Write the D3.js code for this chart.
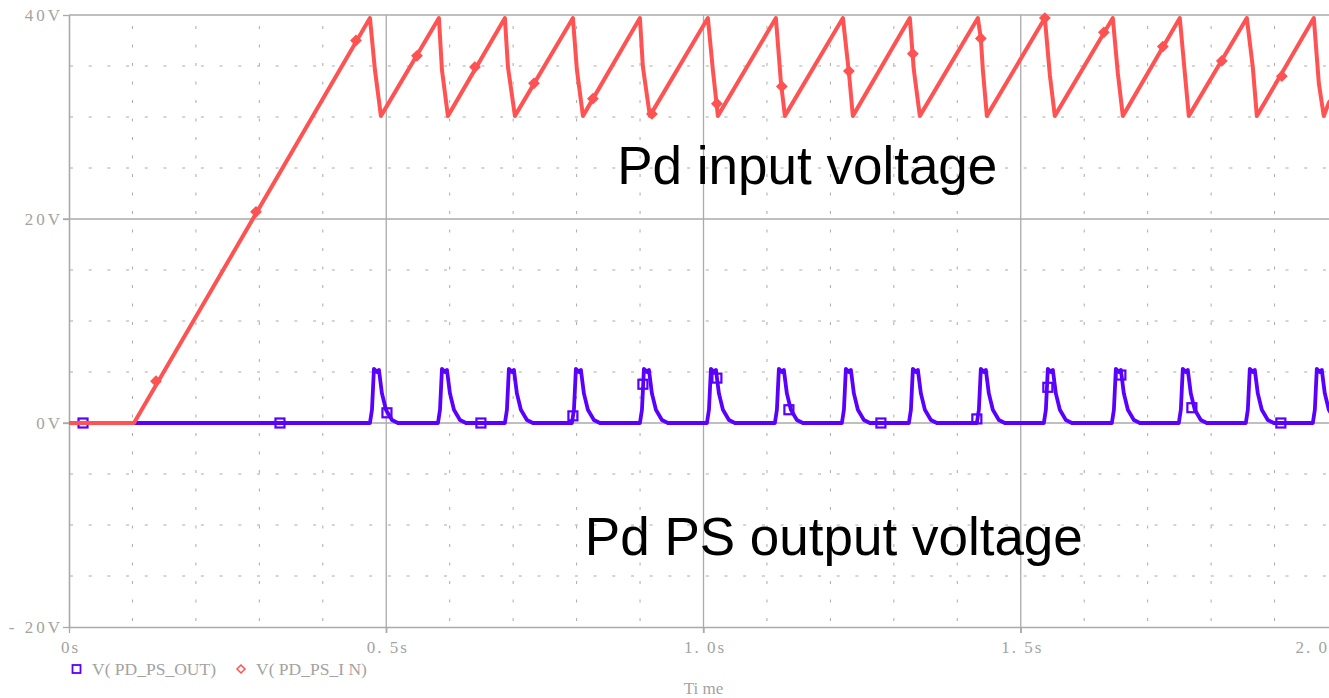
<!DOCTYPE html>
<html><head><meta charset="utf-8">
<script src="https://cdn.jsdelivr.net/npm/d3@7"></script>
<style>
html,body{margin:0;padding:0;background:#fff;overflow:hidden}
svg{display:block}
</style></head>
<body>
<svg id="chart" width="1329" height="698"></svg>
<script>
// ---- data (time in s, voltage in V) ----
const xTickValues = [0, 0.5, 1.0, 1.5, 2.0];
const xTickLabels = ["0s", "0. 5s", "1. 0s", "1. 5s", "2. 0s"];
const yTickValues = [40, 20, 0, -20];
const yTickLabels = ["40V", "20V", "0V", "- 20V"];
const xMinorGrid = [0.1,0.2,0.3,0.4,0.6,0.7,0.8,0.9,1.1,1.2,1.3,1.4,1.6,1.7,1.8,1.9];
const yMinorGrid = [35,30,25,15,10,5,-5,-10,-15];
const xMajorGrid = [0.5, 1.0, 1.5];
const yMajorGrid = [20, 0];

const seriesNames = ["V( PD_PS_OUT)", "V( PD_PS_I N)"];
const annotations = ["Pd input voltage", "Pd PS output voltage"];
const xTitle = "Ti me";

// V(PD_PS_IN)
const inputT = [0,0.1024,
 0.4743,0.4822,0.4916,0.4964,
 0.5830,0.5878,0.5972,0.6019,
 0.6870,0.6918,0.7028,0.7075,
 0.7942,0.8005,0.8100,0.8147,
 0.8998,0.9045,0.9155,0.9202,
 1.0069,1.0148,1.0227,1.0274,
 1.1141,1.1220,1.1283,1.1330,
 1.2197,1.2291,1.2354,1.2401,
 1.3252,1.3315,1.3410,1.3457,
 1.4324,1.4371,1.4403,1.4466,1.4513,
 1.5380,1.5459,1.5537,1.5584,
 1.6451,1.6530,1.6609,1.6656,
 1.7507,1.7586,1.7649,1.7696,
 1.8563,1.8657,1.8721,1.8768,
 1.9619,1.9698,1.9776,1.9855,2.0];
const inputV = [0,0,
 39.7,34.6,30.1,30.6,
 39.7,34.6,30.1,30.6,
 39.7,34.9,30.1,30.6,
 39.7,34.6,30.1,30.6,
 39.7,34.9,30.1,30.6,
 39.7,34.6,30.1,30.6,
 39.7,33.4,30.1,30.6,
 39.7,34.4,30.1,30.6,
 39.7,34.6,30.1,30.6,
 39.7,37.7,34.6,30.1,30.6,
 39.7,34.1,30.1,30.6,
 39.7,34.3,30.1,30.6,
 39.7,34.3,30.1,30.6,
 39.7,34.9,30.1,30.6,
 39.7,33.3,30.1,31.4,32.6];

// V(PD_PS_OUT)
const outputT = [0,
 0.4743,0.4775,0.4806,0.4853,0.4885,0.4932,0.4995,0.5090,0.5184,
 0.5815,0.5847,0.5878,0.5925,0.5957,0.6004,0.6067,0.6162,0.6256,
 0.6870,0.6902,0.6933,0.6980,0.7012,0.7059,0.7122,0.7217,0.7311,
 0.7926,0.7958,0.7989,0.8036,0.8068,0.8115,0.8178,0.8273,0.8367,
 0.8998,0.9030,0.9061,0.9108,0.9140,0.9187,0.9250,0.9345,0.9439,
 1.0054,1.0086,1.0117,1.0164,1.0196,1.0243,1.0306,1.0401,1.0495,
 1.1125,1.1157,1.1188,1.1235,1.1267,1.1314,1.1377,1.1472,1.1566,
 1.2181,1.2213,1.2244,1.2291,1.2323,1.2370,1.2433,1.2528,1.2622,
 1.3237,1.3269,1.3300,1.3347,1.3379,1.3426,1.3489,1.3584,1.3678,
 1.4308,1.4340,1.4371,1.4418,1.4450,1.4497,1.4560,1.4655,1.4749,
 1.5364,1.5396,1.5427,1.5474,1.5506,1.5553,1.5616,1.5711,1.5805,
 1.6436,1.6468,1.6499,1.6546,1.6578,1.6625,1.6688,1.6783,1.6877,
 1.7491,1.7523,1.7554,1.7601,1.7633,1.7680,1.7743,1.7838,1.7932,
 1.8547,1.8579,1.8610,1.8657,1.8689,1.8736,1.8799,1.8894,1.8988,
 1.9603,1.9635,1.9666,1.9713,1.9745,1.9792,1.9855,1.9950,2.0];
const outputV = [0,
 0,1.3,5.3,5.0,5.2,2.9,1.3,0.3,0,
 0,1.3,5.3,5.0,5.2,2.9,1.3,0.3,0,
 0,1.3,5.3,5.0,5.2,2.9,1.3,0.3,0,
 0,1.3,5.3,5.0,5.2,2.9,1.3,0.3,0,
 0,1.3,5.3,5.0,5.2,2.9,1.3,0.3,0,
 0,1.3,5.3,5.0,5.2,2.9,1.3,0.3,0,
 0,1.3,5.3,5.0,5.2,2.9,1.3,0.3,0,
 0,1.3,5.3,5.0,5.2,2.9,1.3,0.3,0,
 0,1.3,5.3,5.0,5.2,2.9,1.3,0.3,0,
 0,1.3,5.3,5.0,5.2,2.9,1.3,0.3,0,
 0,1.3,5.3,5.0,5.2,2.9,1.3,0.3,0,
 0,1.3,5.3,5.0,5.2,2.9,1.3,0.3,0,
 0,1.3,5.3,5.0,5.2,2.9,1.3,0.3,0,
 0,1.3,5.3,5.0,5.2,2.9,1.3,0.3,0,
 0,1.3,5.3,5.0,5.2,2.9,1.3,0.3,0.2];

// marker points
const inputMarkT = [0.1371,0.2947,0.4523,0.5484,0.6398,0.7328,0.8257,0.9187,1.0211,1.1235,1.2291,1.3300,1.4371,1.5380,1.6310,1.7239,1.8169,1.9115];
const inputMarkV = [4.1,20.7,37.5,36.0,34.9,33.3,31.8,30.3,31.3,33.0,34.5,36.2,37.7,39.7,38.3,36.9,35.5,34.0];
const outputMarkT = [0.0221,0.3325,0.5011,0.6492,0.7942,0.9045,1.0211,1.1346,1.2796,1.4308,1.5427,1.6578,1.7697,1.9099];
const outputMarkV = [0,0,1.0,0,0.7,3.8,4.4,1.3,0,0.4,3.5,4.7,1.5,0];

// ---- drawing ----
const RED = "#ff5252", BLUE = "#5a00ff", GRID = "#aaaaaa", TXT = "#a3a3a3";
const svg = d3.select("#chart");
const x = d3.scaleLinear().domain([0, 2]).range([69, 1338]);
const y = d3.scaleLinear().domain([-20, 40]).range([627, 15]);
const serif = "'Liberation Serif','Times New Roman',serif";

// minor dotted grid
svg.append("g").selectAll("line").data(xMinorGrid).join("line")
  .attr("x1", d => x(d)).attr("x2", d => x(d)).attr("y1", y(40)).attr("y2", y(-20))
  .attr("stroke", GRID).attr("stroke-width", 1).attr("stroke-dasharray", "3,15.5")
  .attr("stroke-dashoffset", -11);
svg.append("g").selectAll("line").data(yMinorGrid).join("line")
  .attr("x1", x(0)).attr("x2", x(2)).attr("y1", d => y(d)).attr("y2", d => y(d))
  .attr("stroke", GRID).attr("stroke-width", 1).attr("stroke-dasharray", "3,15.7")
  .attr("stroke-dashoffset", -1);
// major solid grid
svg.append("g").selectAll("line").data(xMajorGrid).join("line")
  .attr("x1", d => x(d)).attr("x2", d => x(d)).attr("y1", y(40)).attr("y2", y(-20) + 6)
  .attr("stroke", GRID).attr("stroke-width", 1.3);
svg.append("g").selectAll("line").data(yMajorGrid).join("line")
  .attr("x1", x(0) - 6).attr("x2", x(2)).attr("y1", d => y(d)).attr("y2", d => y(d))
  .attr("stroke", GRID).attr("stroke-width", 1.3);
// frame top line
svg.append("line").attr("x1", x(0)).attr("x2", x(2)).attr("y1", y(40)).attr("y2", y(40))
  .attr("stroke", GRID).attr("stroke-width", 1.6);

// axes
const yAxis = d3.axisLeft(y).tickValues(yTickValues)
  .tickFormat((d, i) => yTickLabels[i]).tickSize(6).tickPadding(0).tickSizeOuter(0);
const gy = svg.append("g").attr("transform", `translate(${x(0)},0)`).call(yAxis);
const xAxis = d3.axisBottom(x).tickValues(xTickValues)
  .tickFormat((d, i) => xTickLabels[i]).tickSize(6).tickPadding(8).tickSizeOuter(0);
const gx = svg.append("g").attr("transform", `translate(0,${y(-20)})`).call(xAxis);
[gx, gy].forEach(g => {
  g.select(".domain").attr("stroke", GRID).attr("stroke-width", 1.6);
  g.selectAll(".tick line").attr("stroke", GRID).attr("stroke-width", 1.3);
  g.selectAll(".tick text").attr("fill", TXT).attr("font-family", serif)
    .attr("font-size", 17).attr("letter-spacing", "2px");
});
gy.selectAll(".tick text").attr("letter-spacing", "3px");
gx.selectAll(".tick text").attr("dx", (d, i) => i === xTickValues.length - 1 ? -43 : 1)
  .attr("text-anchor", (d, i) => i === xTickValues.length - 1 ? "start" : "middle");

// lines
const line = d3.line().x(d => x(d[0])).y(d => y(d[1])).curve(d3.curveLinear);
const outData = outputT.map((t, i) => [t, outputV[i]]);
const inData = inputT.map((t, i) => [t, inputV[i]]);

svg.append("path").datum(outData).attr("d", line).attr("fill", "none")
  .attr("stroke", BLUE).attr("stroke-width", 3.8).attr("stroke-linejoin", "round");
svg.append("g").selectAll("rect").data(outputMarkT.map((t, i) => [t, outputMarkV[i]])).join("rect")
  .attr("x", d => x(d[0]) - 4.5).attr("y", d => y(d[1]) - 4.5).attr("width", 9).attr("height", 9)
  .attr("fill", "none").attr("stroke", BLUE).attr("stroke-width", 2.2);

svg.append("path").datum(inData).attr("d", line).attr("fill", "none")
  .attr("stroke", RED).attr("stroke-width", 4).attr("stroke-linejoin", "round");
const diamond = d3.symbol().type(d3.symbolDiamond2).size(60);
svg.append("g").selectAll("path").data(inputMarkT.map((t, i) => [t, inputMarkV[i]])).join("path")
  .attr("d", diamond).attr("transform", d => `translate(${x(d[0])},${y(d[1])})`)
  .attr("fill", RED).attr("stroke", RED).attr("stroke-width", 1.5);

// annotations
svg.append("text").attr("x", x(0.864)).attr("y", y(23.4)).text(annotations[0])
  .attr("font-family", "'Liberation Sans',Arial,sans-serif").attr("font-size", 53).attr("fill", "#000");
svg.append("text").attr("x", x(0.813)).attr("y", y(-12.9)).text(annotations[1])
  .attr("font-family", "'Liberation Sans',Arial,sans-serif").attr("font-size", 53).attr("fill", "#000");

// legend
const lg = svg.append("g");
lg.append("rect").attr("x", 72.5).attr("y", 665).attr("width", 8).attr("height", 8)
  .attr("fill", "none").attr("stroke", BLUE).attr("stroke-width", 1.8);
lg.append("text").attr("x", 92).attr("y", 675).text(seriesNames[0])
  .attr("font-family", serif).attr("font-size", 17.5).attr("fill", TXT);
lg.append("path").attr("d", d3.symbol().type(d3.symbolDiamond2).size(40))
  .attr("transform", "translate(241,669)")
  .attr("fill", "none").attr("stroke", RED).attr("stroke-width", 1.5);
lg.append("text").attr("x", 256).attr("y", 675).text(seriesNames[1])
  .attr("font-family", serif).attr("font-size", 17.5).attr("fill", TXT);

// x title
svg.append("text").attr("x", x(1.0)).attr("y", 694).attr("text-anchor", "middle").text(xTitle)
  .attr("font-family", serif).attr("font-size", 17).attr("fill", TXT);
</script>
</body></html>
